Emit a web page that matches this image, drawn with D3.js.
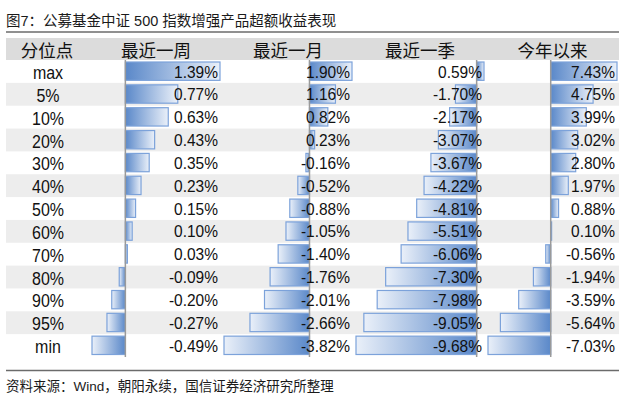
<!DOCTYPE html>
<html>
<head>
<meta charset="utf-8">
<script src="https://cdn.jsdelivr.net/npm/d3@7"></script>
<style>
  html, body { margin: 0; padding: 0; background: #fff; }
  svg { display: block; }
</style>
</head>
<body>
<svg id="chart" width="633" height="399"></svg>
<script>
const title = "图7：公募基金中证 500 指数增强产品超额收益表现";
const source = "资料来源：Wind，朝阳永续，国信证券经济研究所整理";
const headers = ["分位点", "最近一周", "最近一月", "最近一季", "今年以来"];
const labels = ["max", "5%", "10%", "20%", "30%", "40%", "50%", "60%", "70%", "80%", "90%", "95%", "min"];
const week    = [1.39, 0.77, 0.63, 0.43, 0.35, 0.23, 0.15, 0.10, 0.03, -0.09, -0.20, -0.27, -0.49];
const month   = [1.90, 1.16, 0.82, 0.23, -0.16, -0.52, -0.88, -1.05, -1.40, -1.76, -2.01, -2.66, -3.82];
const quarter = [0.59, -1.70, -2.17, -3.07, -3.67, -4.22, -4.81, -5.51, -6.06, -7.30, -7.98, -9.05, -9.68];
const ytd     = [7.43, 4.75, 3.99, 3.02, 2.80, 1.97, 0.88, 0.10, -0.56, -1.94, -3.59, -5.64, -7.03];

const series = [week, month, quarter, ytd];

const svg = d3.select("#chart");
const latin = "'Liberation Sans', Arial, sans-serif";
const cjk = "'Liberation Sans', 'Noto Sans CJK SC', sans-serif";

const tableLeft = 6, tableRight = 619;
const colEdges = [6, 90, 222, 354, 486, 619];
const headerTop = 38, headerBottom = 60, tableBottom = 357;
const stretch = 1.12;

// Gradients
const defs = svg.append("defs");
const gPos = defs.append("linearGradient").attr("id", "gpos").attr("x1", 0).attr("x2", 1).attr("y1", 0).attr("y2", 0);
gPos.append("stop").attr("offset", "0%").attr("stop-color", "#5a88c9");
gPos.append("stop").attr("offset", "100%").attr("stop-color", "#eaf0f9");
const gNeg = defs.append("linearGradient").attr("id", "gneg").attr("x1", 1).attr("x2", 0).attr("y1", 0).attr("y2", 0);
gNeg.append("stop").attr("offset", "0%").attr("stop-color", "#5a88c9");
gNeg.append("stop").attr("offset", "100%").attr("stop-color", "#eaf0f9");

// Title
svg.append("text").attr("x", 6).attr("y", 26)
  .attr("font-family", cjk).attr("font-size", 14.5).attr("fill", "#1a1a1a")
  .text(title);
svg.append("line").attr("x1", tableLeft).attr("x2", tableRight).attr("y1", 32).attr("y2", 32)
  .attr("stroke", "#6b6b6b").attr("stroke-width", 1.5);

// Header band
svg.append("rect").attr("x", tableLeft).attr("y", headerTop).attr("width", tableRight - tableLeft)
  .attr("height", headerBottom - headerTop).attr("fill", "#dcdcdc");
svg.selectAll("text.hdr").data(headers).join("text").attr("class", "hdr")
  .attr("x", (d, i) => (colEdges[i] + colEdges[i + 1]) / 2 + (i === 0 ? -1 : 0))
  .attr("y", 56.5)
  .attr("text-anchor", "middle")
  .attr("font-family", cjk).attr("font-size", 17.5).attr("fill", "#111")
  .text(d => d);

// Rows
const y = d3.scaleBand().domain(labels).range([headerBottom, tableBottom]).paddingInner(0).paddingOuter(0);
svg.selectAll("rect.stripe").data(labels.filter((d, i) => i % 2 === 1)).join("rect").attr("class", "stripe")
  .attr("x", tableLeft).attr("width", tableRight - tableLeft)
  .attr("y", d => y(d)).attr("height", y.bandwidth()).attr("fill", "#ededed");

svg.selectAll("text.lab").data(labels).join("text").attr("class", "lab")
  .attr("transform", d => `translate(48,${y(d) + 19}) scale(1,${stretch})`)
  .attr("text-anchor", "middle")
  .attr("font-family", latin).attr("font-size", 16).attr("fill", "#111")
  .text(d => d);

// Columns with data bars
series.forEach((vals, ci) => {
  const x0 = colEdges[ci + 1], x1 = colEdges[ci + 2];
  const lo = Math.min(0, d3.min(vals)), hi = Math.max(0, d3.max(vals));
  const x = d3.scaleLinear().domain([lo, hi]).range([x0 + 2, x1 - 2]);
  const g = svg.append("g");
  g.selectAll("rect").data(vals).join("rect")
    .attr("x", d => Math.min(x(0), x(d)))
    .attr("width", d => Math.abs(x(d) - x(0)))
    .attr("y", (d, i) => y(labels[i]) + 2)
    .attr("height", y.bandwidth() - 4.5)
    .attr("fill", d => d >= 0 ? "url(#gpos)" : "url(#gneg)")
    .attr("stroke", "#7ca2da").attr("stroke-width", 1.2);
  g.append("line").attr("x1", x(0)).attr("x2", x(0))
    .attr("y1", headerBottom).attr("y2", tableBottom)
    .attr("stroke", "#9a9a9a").attr("stroke-width", 1.5);
  g.selectAll("text").data(vals).join("text")
    .attr("transform", (d, i) => `translate(${x1 - 4},${y(labels[i]) + 17.5}) scale(1,${stretch})`)
    .attr("text-anchor", "end")
    .attr("font-family", latin).attr("font-size", 15.5).attr("fill", "#111")
    .text(d => d.toFixed(2) + "%");
});

// Bottom rule and source
svg.append("line").attr("x1", tableLeft).attr("x2", tableRight).attr("y1", 370.5).attr("y2", 370.5)
  .attr("stroke", "#6b6b6b").attr("stroke-width", 1.5);
svg.append("text").attr("x", 6).attr("y", 391)
  .attr("font-family", cjk).attr("font-size", 13.5).attr("fill", "#1a1a1a")
  .text(source);
</script>
</body>
</html>
